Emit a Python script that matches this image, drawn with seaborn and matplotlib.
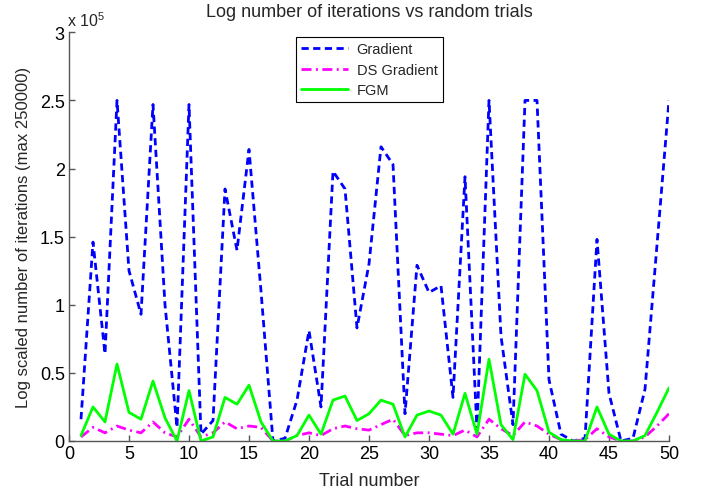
import numpy as np
import pandas as pd
import matplotlib
matplotlib.use('Agg')
import matplotlib.pyplot as plt
from matplotlib.ticker import FuncFormatter, MultipleLocator
import seaborn as sns

#%% podaci (ocitano sa slike, u jedinicama 1e5)
trials = list(range(1, 51))

gradient = [0.16, 1.46, 0.64, 2.50, 1.25, 0.93, 2.47, 1.00, 0.10, 2.47,
            0.05, 0.15, 1.85, 1.40, 2.14, 1.10, 0.00, 0.02, 0.30, 0.81,
            0.25, 1.98, 1.85, 0.83, 1.30, 2.16, 2.03, 0.20, 1.29, 1.09,
            1.14, 0.32, 1.94, 0.08, 2.50, 0.77, 0.12, 2.50, 2.50, 0.45,
            0.05, 0.00, 0.02, 1.48, 0.35, 0.00, 0.02, 0.38, 1.44, 2.50]

ds_gradient = [0.03, 0.10, 0.06, 0.11, 0.08, 0.06, 0.14, 0.06, 0.03, 0.16,
               0.03, 0.06, 0.14, 0.09, 0.11, 0.10, 0.00, 0.00, 0.04, 0.06,
               0.04, 0.09, 0.11, 0.09, 0.08, 0.12, 0.16, 0.04, 0.06, 0.06,
               0.05, 0.04, 0.08, 0.03, 0.16, 0.09, 0.04, 0.14, 0.11, 0.05,
               0.01, 0.00, 0.01, 0.09, 0.03, 0.00, 0.00, 0.03, 0.11, 0.20]

fgm = [0.04, 0.25, 0.14, 0.565, 0.21, 0.16, 0.44, 0.17, 0.00, 0.37,
       0.00, 0.03, 0.32, 0.27, 0.41, 0.14, 0.00, 0.00, 0.04, 0.19,
       0.05, 0.30, 0.33, 0.15, 0.20, 0.30, 0.27, 0.03, 0.19, 0.22,
       0.19, 0.05, 0.35, 0.05, 0.60, 0.12, 0.01, 0.49, 0.37, 0.065,
       0.01, 0.00, 0.00, 0.25, 0.05, 0.00, 0.00, 0.04, 0.21, 0.39]

df = pd.DataFrame({
    'trial': trials,
    'Gradient': np.array(gradient) * 1e5,
    'DS Gradient': np.array(ds_gradient) * 1e5,
    'FGM': np.array(fgm) * 1e5,
})

#%% stil
sns.set_style('ticks')
plt.rcParams['font.family'] = ['Liberation Sans', 'DejaVu Sans']
plt.rcParams['mathtext.fontset'] = 'custom'
plt.rcParams['mathtext.rm'] = 'Liberation Sans'
plt.rcParams['mathtext.default'] = 'regular'

fig = plt.figure(figsize=(7.06, 4.89), dpi=100)
ax = fig.add_axes([69 / 706, 1 - 442 / 489, 600 / 706, (442 - 33.3) / 489])

sns.lineplot(data=df, x='trial', y='Gradient', ax=ax, color='#0000FF',
             linewidth=2, linestyle=(0, (2.6, 1.6)), label='Gradient')
sns.lineplot(data=df, x='trial', y='DS Gradient', ax=ax, color='#FF00FF',
             linewidth=2, linestyle=(0, (3.6, 1.6, 0.7, 1.6)), label='DS Gradient')
sns.lineplot(data=df, x='trial', y='FGM', ax=ax, color='#00FF00',
             linewidth=2, label='FGM')

ax.set_xlim(0, 50)
ax.set_ylim(0, 3e5)
ax.xaxis.set_major_locator(MultipleLocator(5))
ax.yaxis.set_major_locator(MultipleLocator(0.5e5))
ax.yaxis.set_major_formatter(FuncFormatter(lambda v, p: f'{v / 1e5:g}'))

sns.despine(ax=ax)
for s in ['left', 'bottom']:
    ax.spines[s].set_color('#555555')
    ax.spines[s].set_linewidth(1.0)
ax.tick_params(direction='in', length=4, width=1, color='#555555',
               labelsize=13, labelcolor='black', pad=3)

ax.set_xlabel('Trial number', fontsize=13, labelpad=7)
ax.set_ylabel('Log scaled number of iterations (max 250000)', fontsize=12, labelpad=6)
ax.set_title('Log number of iterations vs random trials', fontsize=13, pad=12)

fig.text(67 / 706, 1 - 27 / 489, r'x 10$^{5}$', fontsize=11.5, ha='left', va='baseline')

leg = ax.legend(loc='upper left', bbox_to_anchor=(296 / 706, 1 - 38 / 489),
                bbox_transform=fig.transFigure, fontsize=10.5, frameon=True,
                fancybox=False, edgecolor='black', framealpha=1,
                handlelength=3.2, borderpad=0.35, labelspacing=0.45,
                handletextpad=0.6, borderaxespad=0)
leg.get_frame().set_linewidth(0.8)

fig.savefig('out.png', dpi=100)
